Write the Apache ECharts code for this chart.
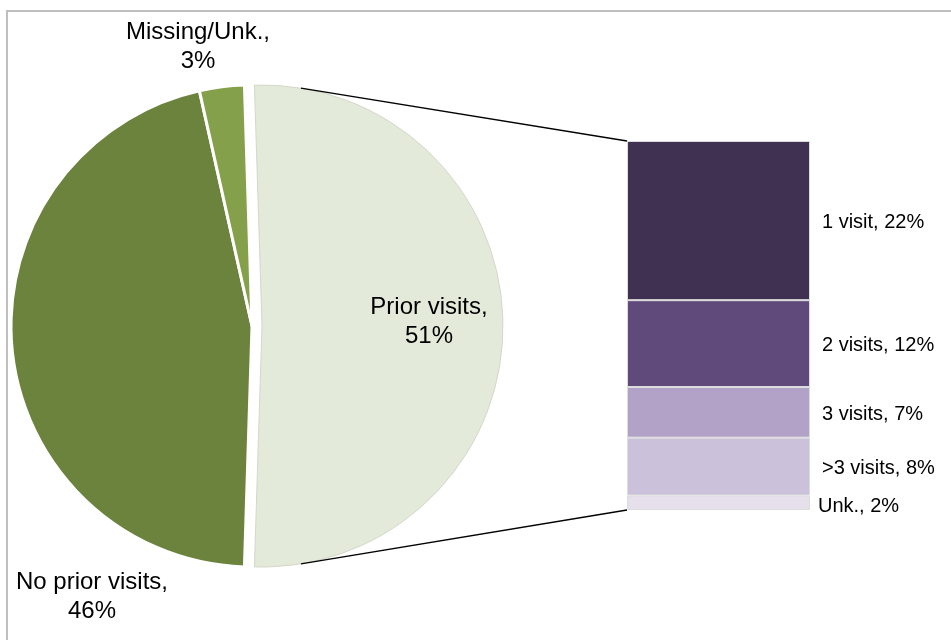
<!DOCTYPE html>
<html>
<head>
<meta charset="utf-8">
<script src="https://cdn.jsdelivr.net/npm/echarts@6/dist/echarts.min.js"></script>
<style>
  html, body { margin: 0; padding: 0; background: #fff; }
  #chart { width: 951px; height: 640px; }
</style>
</head>
<body>
<div id="chart"></div>
<script>
// pie part
const pieNames = ['Prior visits', 'No prior visits', 'Missing/Unk.']
const pieValues = [51, 46, 3]
const pieColors = ['#e4eada', '#6c833d', '#84a04a']

// breakdown of "Prior visits" (bottom to top in the stack)
const barNames = ['Unk.', '>3 visits', '3 visits', '2 visits', '1 visit']
const barValues = [2, 8, 7, 12, 22]
const barColors = ['#e5e0ec', '#ccc1da', '#b2a2c7', '#604a7b', '#403152']

const FONT = 'Liberation Sans'
const pieCenter = [252, 326]
const pieRadius = 241
const explode = 10
const grid = { left: 627, top: 141, width: 183, height: 369 }

const barTotal = barValues.reduce((a, b) => a + b, 0)
const pieTotal = pieValues.reduce((a, b) => a + b, 0)
const startAngle = (pieValues[0] / pieTotal) * 180

const myChart = echarts.init(document.getElementById('chart'), null, { renderer: 'canvas' })

// label spots for the pie (text only), same order as pieNames
const pieLabelPos = [
	{ x: 429, y: 322 },
	{ x: 92, y: 597 },
	{ x: 198, y: 47 }
]

const pieLabel = {
	show: true,
	position: 'inside',
	fontFamily: FONT,
	fontSize: 24,
	lineHeight: 29,
	color: '#000',
	align: 'center',
	formatter: p => p.name + ',\n' + p.value + '%'
}

// both pies keep the slices in pieNames order, so dataIndex matches
function pieLayout(params) {
	const pos = pieLabelPos[params.dataIndex]
	if (!pos) return {}
	return { x: pos.x, y: pos.y, align: 'center', verticalAlign: 'middle' }
}

// blank filler so each pie keeps the same angles
function filler(value) {
	return {
		name: '',
		value: value,
		itemStyle: { color: 'rgba(0,0,0,0)', borderWidth: 0 },
		label: { show: false }
	}
}

var option = {
	animation: false,
	backgroundColor: '#fff',
	grid: grid,
	xAxis: {
		type: 'category',
		data: ['Prior visits'],
		show: false
	},
	yAxis: {
		type: 'value',
		min: 0,
		max: barTotal,
		show: false
	},
	series: [
		// exploded "Prior visits" slice
		{
			type: 'pie',
			center: [pieCenter[0] + explode, pieCenter[1]],
			radius: pieRadius,
			startAngle: startAngle,
			clockwise: true,
			silent: true,
			avoidLabelOverlap: false,
			label: pieLabel,
			labelLine: { show: false },
			labelLayout: pieLayout,
			data: [
				{
					name: pieNames[0],
					value: pieValues[0],
					itemStyle: { color: pieColors[0], borderColor: '#d3d8c8', borderWidth: 1 }
				},
				filler(pieTotal - pieValues[0])
			]
		},
		// the rest of the pie
		{
			type: 'pie',
			center: pieCenter,
			radius: pieRadius,
			startAngle: startAngle,
			clockwise: true,
			silent: true,
			avoidLabelOverlap: false,
			label: pieLabel,
			labelLine: { show: false },
			labelLayout: pieLayout,
			data: [filler(pieValues[0])].concat(
				pieNames.slice(1).map((name, i) => ({
					name: name,
					value: pieValues[i + 1],
					itemStyle: { color: pieColors[i + 1], borderColor: '#fff', borderWidth: 3 }
				}))
			)
		}
	].concat(
		barNames.map((name, i) => ({
			type: 'bar',
			name: name,
			stack: 'prior',
			barWidth: '100%',
			silent: true,
			itemStyle: {
				color: barColors[i],
				borderColor: '#dcdcdc',
				borderWidth: 1
			},
			label: {
				show: true,
				position: 'right',
				distance: 12,
				offset: name === 'Unk.' ? [-4, 4] : [0, 2],
				fontFamily: FONT,
				fontSize: 20,
				color: '#000',
				formatter: p => p.seriesName + ', ' + p.value + '%'
			},
			data: [barValues[i]]
		}))
	)
}
myChart.setOption(option)

// connector lines from the exploded slice to the bar corners, plus frame
const sliceCx = pieCenter[0] + explode
const ang = (80.7 * Math.PI) / 180
const startTop = [sliceCx + pieRadius * Math.cos(ang), pieCenter[1] - pieRadius * Math.sin(ang)]
const startBot = [sliceCx + pieRadius * Math.cos(ang), pieCenter[1] + pieRadius * Math.sin(ang)]
const barTopY = myChart.convertToPixel({ yAxisIndex: 0 }, barTotal)
const barBotY = myChart.convertToPixel({ yAxisIndex: 0 }, 0)

myChart.setOption({
	graphic: [
		{
			type: 'rect',
			shape: { x: 7, y: 11, width: 1000, height: 700 },
			style: { fill: 'none', stroke: '#bfbfbf', lineWidth: 2 },
			z: 100
		},
		{
			type: 'line',
			shape: { x1: startTop[0], y1: startTop[1], x2: grid.left, y2: barTopY },
			style: { stroke: '#000', lineWidth: 1.3 },
			z: 100
		},
		{
			type: 'line',
			shape: { x1: startBot[0], y1: startBot[1], x2: grid.left, y2: barBotY },
			style: { stroke: '#000', lineWidth: 1.3 },
			z: 100
		}
	]
})
</script>
</body>
</html>
